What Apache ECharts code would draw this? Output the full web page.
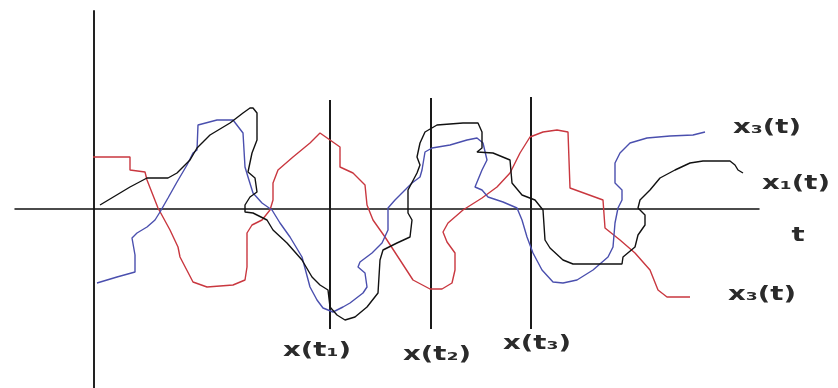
<!DOCTYPE html>
<html>
<head>
<meta charset="utf-8">
<script src="https://cdn.jsdelivr.net/npm/echarts@6/dist/echarts.min.js"></script>
<style>html,body{margin:0;padding:0;background:#fff}#c{width:838px;height:388px}</style>
</head>
<body>
<div id="c"></div>
<script>
// Realisations x(t) of a random process; coordinates are [t, x] in arbitrary units
const redPath = [[-1,52],[36,52],[36,39],[51,37],[53,29],[64,1],[76,-21],[84,-38],[86,-48],[99,-73],[113,-78],[139,-76],[151,-71],[153,-58],[153,-24],[158,-16],[168,-11],[176,-1],[179,9],[179,26],[184,39],[199,52],[216,66],[226,76],[236,69],[246,62],[246,42],[259,36],[271,24],[273,4],[279,-11],[291,-28],[306,-51],[319,-71],[336,-80],[348,-80],[358,-74],[361,-61],[361,-44],[353,-33],[349,-23],[354,-14],[369,-1],[388,11],[403,22],[416,36],[426,56],[436,72],[449,77],[463,79],[474,77],[476,21],[509,9],[511,-19],[526,-31],[541,-44],[556,-61],[564,-81],[573,-88],[596,-88]];

const bluePath = [[3,-74],[23,-68],[41,-63],[41,-46],[38,-29],[43,-24],[53,-18],[61,-11],[66,-3],[74,11],[83,27],[93,44],[99,56],[103,59],[104,84],[123,89],[139,89],[149,76],[151,42],[154,32],[159,16],[168,6],[178,-1],[186,-14],[196,-28],[208,-48],[216,-78],[223,-91],[229,-99],[239,-103],[249,-98],[256,-94],[269,-84],[273,-78],[271,-64],[264,-58],[266,-53],[278,-44],[288,-34],[294,-21],[294,1],[301,9],[311,19],[318,26],[326,32],[328,39],[331,57],[338,61],[356,64],[373,69],[383,71],[389,66],[393,49],[388,39],[381,22],[388,19],[394,12],[409,7],[423,1],[428,-11],[433,-28],[439,-44],[448,-61],[459,-73],[469,-74],[483,-71],[499,-61],[514,-48],[519,-38],[521,-14],[524,1],[528,9],[528,19],[521,26],[521,46],[526,56],[536,66],[553,71],[576,73],[599,74],[611,77]];

const blackPath = [[6,4],[36,22],[53,31],[74,31],[83,36],[88,41],[96,49],[103,61],[116,74],[136,86],[149,96],[156,101],[159,101],[163,96],[163,69],[158,56],[154,37],[161,31],[163,17],[156,12],[151,4],[151,-3],[159,-4],[173,-11],[179,-21],[193,-34],[208,-51],[218,-68],[226,-76],[234,-81],[236,-98],[243,-106],[251,-111],[261,-108],[273,-98],[284,-84],[286,-51],[289,-41],[303,-34],[316,-28],[318,-11],[314,-4],[314,19],[323,36],[326,44],[323,52],[326,66],[331,77],[343,84],[369,86],[384,86],[388,77],[388,61],[383,57],[399,56],[416,49],[418,26],[428,14],[441,9],[449,-1],[451,-31],[456,-39],[469,-51],[479,-55],[528,-55],[529,-48],[541,-38],[544,-26],[551,-16],[551,-6],[544,1],[546,9],[556,19],[566,31],[581,39],[596,46],[609,48],[636,48],[641,44],[644,39],[649,36]];

// sampling instants t1, t2, t3 and the extent of their vertical lines
const sampleTimes = [236, 337, 437];
const sampleTops = [109, 111, 112];
const sampleBottom = -120;
const sampleLabels = ['x(t\u2081)', 'x(t\u2082)', 'x(t\u2083)'];
const curveLabels = ['x\u2083(t)', 'x\u2081(t)', 't', 'x\u2083(t)'];

const chart = echarts.init(document.getElementById('c'), null, {renderer: 'canvas'});

const sampleSeries = sampleTimes.map((t, i) => ({
  type: 'line', symbol: 'none', silent: true, clip: false,
  data: [[t, sampleTops[i]], [t, sampleBottom]],
  lineStyle: {color: '#1a1a1a', width: 2}
}));

function curve(data, color) {
  return {type: 'line', symbol: 'none', silent: true, clip: false, smooth: false,
    data: data, lineStyle: {color: color, width: 1.4}};
}

const textStyle = (txt, x, y) => ({
  type: 'text', x: x, y: y, scaleX: 1.45, silent: true,
  style: {text: txt, x: 0, y: 0, align: 'center', verticalAlign: 'middle',
    font: 'bold 19px "DejaVu Sans"', fill: '#2b2b2b'}
});

chart.setOption({
  animation: false,
  grid: {left: 15, right: 79, top: 11, bottom: 0},
  xAxis: {type: 'value', min: -79, max: 665,
    axisLine: {show: true, onZero: true, lineStyle: {color: '#111', width: 1.5}},
    axisTick: {show: false}, axisLabel: {show: false}, splitLine: {show: false}},
  yAxis: {type: 'value', min: -179, max: 198,
    axisLine: {show: true, onZero: true, lineStyle: {color: '#222', width: 2}},
    axisTick: {show: false}, axisLabel: {show: false}, splitLine: {show: false}},
  series: [
    ...sampleSeries,
    curve(redPath, '#c9373f'),
    curve(bluePath, '#4a4fae'),
    curve(blackPath, '#111111')
  ],
  graphic: [
    textStyle(sampleLabels[0], 317, 351),
    textStyle(sampleLabels[1], 437, 355),
    textStyle(sampleLabels[2], 537, 344),
    textStyle(curveLabels[0], 767, 128),
    textStyle(curveLabels[1], 796, 184),
    textStyle(curveLabels[2], 798, 236),
    textStyle(curveLabels[3], 762, 295)
  ]
});
</script>
</body>
</html>
